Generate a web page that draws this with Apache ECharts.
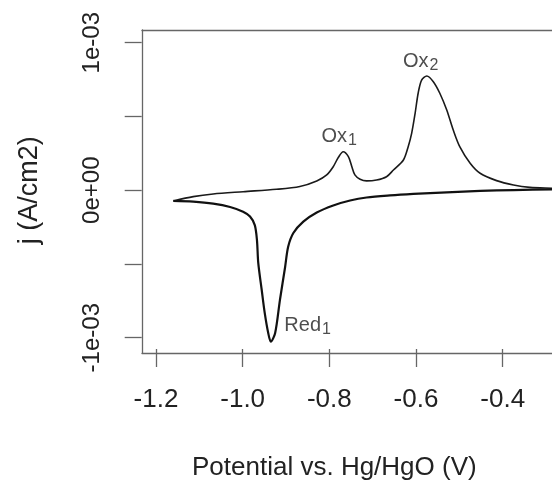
<!DOCTYPE html>
<html>
<head>
<meta charset="utf-8">
<script src="https://cdn.jsdelivr.net/npm/echarts@6/dist/echarts.min.js"></script>
<style>
  html, body { margin: 0; padding: 0; background: #fff; }
  #main { width: 552px; height: 486px; }
</style>
</head>
<body>
<div id="main"></div>
<script>
// 正扫（氧化）分支：电位 V vs. Hg/HgO，电流密度 A/cm2
var anodicPotential = [-1.160, -1.114, -1.068, -0.999, -0.922, -0.868, -0.829, -0.806, -0.791, -0.779,
  -0.768, -0.756, -0.748, -0.741, -0.729, -0.714, -0.691, -0.668, -0.652, -0.629,
  -0.618, -0.610, -0.602, -0.595, -0.587, -0.575, -0.560, -0.545, -0.529, -0.514,
  -0.499, -0.475, -0.452, -0.414, -0.375, -0.337, -0.286, -0.260];
var anodicCurrent = [-5.8e-5, -2.9e-5, -1.1e-5, 4e-6, 2.0e-5, 3.9e-5, 7.6e-5, 1.16e-4, 1.71e-4, 2.34e-4,
  2.71e-4, 2.38e-4, 1.71e-4, 1.16e-4, 8.7e-5, 7.6e-5, 8.2e-5, 1.04e-4, 1.49e-4, 2.16e-4,
  3.05e-4, 3.94e-4, 5.28e-4, 6.62e-4, 7.50e-4, 7.77e-4, 7.39e-4, 6.62e-4, 5.50e-4, 4.16e-4,
  3.05e-4, 1.94e-4, 1.27e-4, 7.8e-5, 4.9e-5, 3.3e-5, 2.7e-5, 2.4e-5];

// 反扫（还原）分支
var cathodicPotential = [-0.260, -0.286, -0.375, -0.452, -0.529, -0.606, -0.660, -0.714, -0.752, -0.791,
  -0.829, -0.860, -0.883, -0.895, -0.902, -0.914, -0.925, -0.935, -0.941, -0.949,
  -0.956, -0.964, -0.967, -0.972, -0.983, -0.999, -1.029, -1.068, -1.114, -1.160];
var cathodicCurrent = [2.4e-5, 2.0e-5, 1.5e-5, 9e-6, 0, -1.1e-5, -2.1e-5, -3.5e-5, -5.5e-5, -8.8e-5,
  -1.35e-4, -1.96e-4, -2.72e-4, -3.64e-4, -4.99e-4, -7.20e-4, -9.40e-4, -9.98e-4, -9.40e-4, -8.07e-4,
  -6.53e-4, -4.72e-4, -3.19e-4, -2.19e-4, -1.62e-4, -1.30e-4, -9.8e-5, -7.6e-5, -6.3e-5, -5.8e-5];

// 峰标注
var peakNames = ['Ox', 'Ox', 'Red'];
var peakIndex = ['1', '2', '1'];
var peakPotential = [-0.777, -0.589, -0.850];
var peakCurrent = [3.72e-4, 8.73e-4, -8.93e-4];

// 刻度
var xTicks = [-1.2, -0.4, 0.2];
var yTicks = [-1e-3, 1e-3, 5e-4];

function zip(xs, ys) {
  return xs.map(function (x, i) { return [x, ys[i]]; });
}

var textColor = '#222';
var boxColor = '#666';
var font = '"Liberation Sans", Arial, sans-serif';

// 边框线（只画线，不画刻度和文字）
var boxLine = {
  show: true, onZero: false, lineStyle: { color: boxColor, width: 1.3 }
};

var myChart = echarts.init(document.getElementById('main'));
var option = {
  backgroundColor: '#fff',
  animation: false,
  grid: [
    // 数据区（右侧延伸出画布）
    { left: 142, top: 30, width: 410, height: 323 },
    // 刻度区
    { left: 156, top: 42.7, width: 346.7, height: 299.3 }
  ],
  xAxis: [
    {
      type: 'value', gridIndex: 0, position: 'bottom', min: -1.2323, max: -0.2861,
      axisLine: boxLine, axisTick: { show: false }, axisLabel: { show: false }, splitLine: { show: false }
    },
    {
      type: 'value', gridIndex: 1, position: 'bottom', offset: 11.3,
      min: xTicks[0], max: xTicks[1], interval: xTicks[2],
      name: 'Potential vs. Hg/HgO (V)', nameLocation: 'middle', nameGap: 106,
      nameTextStyle: { fontSize: 26, color: textColor, fontFamily: font, padding: [0, 0, 0, 10] },
      axisLine: { show: false, onZero: false },
      axisTick: { show: true, length: 18, lineStyle: { color: boxColor, width: 1.3 } },
      axisLabel: {
        margin: 38, fontSize: 26, color: textColor, fontFamily: font,
        formatter: function (v) { return v.toFixed(1); }
      },
      splitLine: { show: false }
    },
    {
      type: 'value', gridIndex: 0, position: 'top', min: -1.2323, max: -0.2861,
      axisLine: boxLine, axisTick: { show: false }, axisLabel: { show: false }, splitLine: { show: false }
    }
  ],
  yAxis: [
    {
      type: 'value', gridIndex: 0, position: 'left', min: -1.0739e-3, max: 1.0845e-3,
      axisLine: boxLine, axisTick: { show: false }, axisLabel: { show: false }, splitLine: { show: false }
    },
    {
      type: 'value', gridIndex: 1, position: 'left', offset: 14.3,
      min: yTicks[0], max: yTicks[1], interval: yTicks[2],
      name: 'j (A/cm2)', nameLocation: 'middle', nameGap: 99, nameRotate: 90,
      nameTextStyle: { fontSize: 27, color: textColor, fontFamily: font },
      axisLine: { show: false, onZero: false },
      axisTick: { show: true, length: 17, lineStyle: { color: boxColor, width: 1.3 } },
      axisLabel: {
        margin: 37, rotate: 90, fontSize: 24, color: textColor, fontFamily: font,
        formatter: function (v) {
          if (Math.abs(v) < 1e-9) return '0e+00';
          if (Math.abs(v) > 9e-4) return v > 0 ? '1e-03' : '-1e-03';
          return '';
        }
      },
      splitLine: { show: false }
    }
  ],
  series: [
    {
      name: 'anodic', type: 'line', xAxisIndex: 0, yAxisIndex: 0,
      data: zip(anodicPotential, anodicCurrent),
      smooth: 0.3, showSymbol: false,
      lineStyle: { color: '#1a1a1a', width: 1.6 }
    },
    {
      name: 'cathodic', type: 'line', xAxisIndex: 0, yAxisIndex: 0,
      data: zip(cathodicPotential, cathodicCurrent),
      smooth: 0.3, showSymbol: false,
      lineStyle: { color: '#111', width: 2.2 }
    },
    {
      name: 'labels', type: 'scatter', xAxisIndex: 0, yAxisIndex: 0,
      symbolSize: 0,
      data: zip(peakPotential, peakCurrent),
      label: {
        show: true, position: 'inside',
        formatter: function (p) {
          return '{m|' + peakNames[p.dataIndex] + '}{s|' + peakIndex[p.dataIndex] + '}';
        },
        rich: {
          m: { fontSize: 20, color: textColor, fontFamily: font, lineHeight: 24, verticalAlign: 'middle' },
          s: { fontSize: 16, color: textColor, fontFamily: font, lineHeight: 24, verticalAlign: 'bottom', padding: [6, 0, 0, 1] }
        }
      }
    }
  ]
};
myChart.setOption(option);
</script>
</body>
</html>
